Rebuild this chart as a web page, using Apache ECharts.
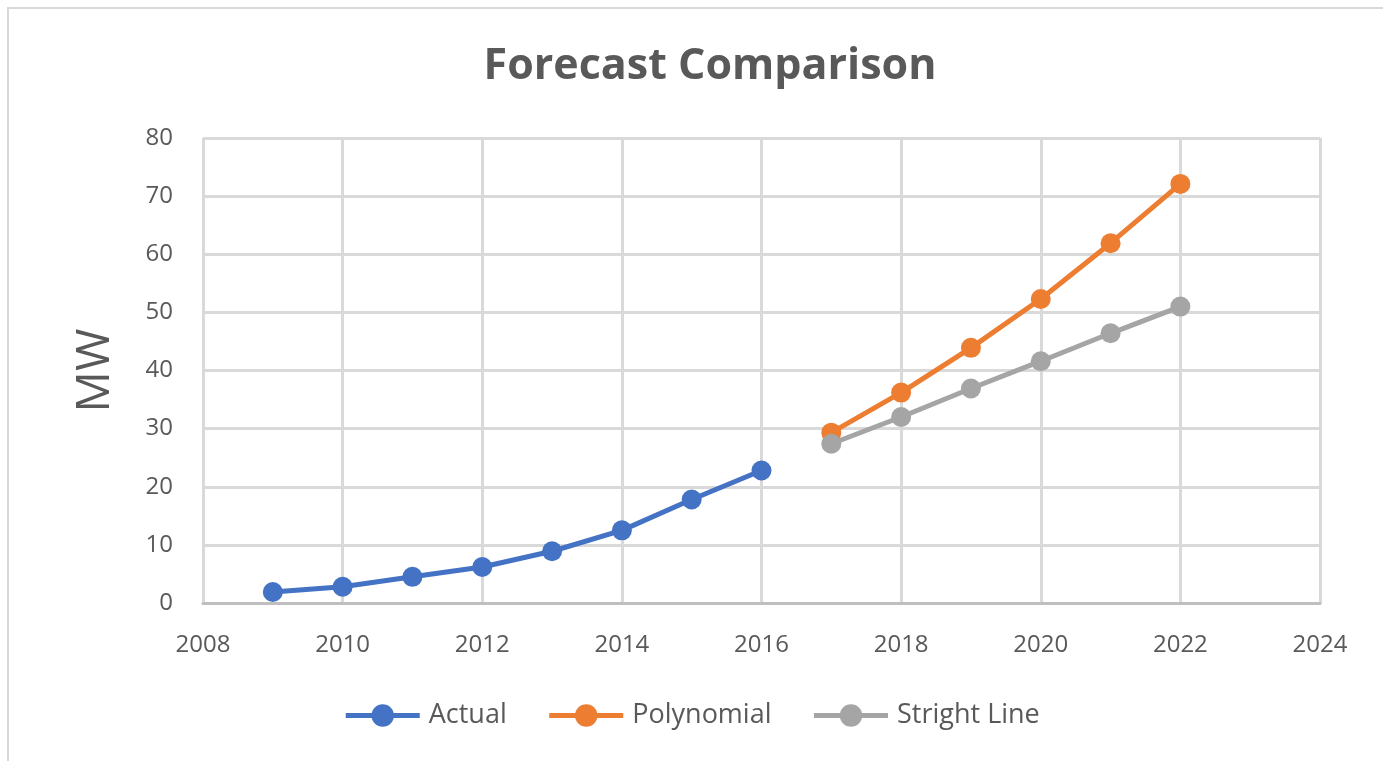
<!DOCTYPE html>
<html>
<head>
<meta charset="utf-8">
<script src="https://cdn.jsdelivr.net/npm/echarts@6/dist/echarts.min.js"></script>
<style>
html,body{margin:0;padding:0;background:#fff;}
#chart{width:1383px;height:761px;}
</style>
</head>
<body>
<div id="chart"></div>
<script>
const actualYears = [2009, 2010, 2011, 2012, 2013, 2014, 2015, 2016];
const actualValues = [1.9, 2.8, 4.5, 6.2, 8.9, 12.5, 17.8, 22.8];
const forecastYears = [2017, 2018, 2019, 2020, 2021, 2022];
const polynomialValues = [29.3, 36.2, 43.9, 52.3, 61.9, 72.1];
const straightValues = [27.4, 32.0, 36.9, 41.6, 46.4, 51.0];
const seriesNames = ['Actual', 'Polynomial', 'Stright Line'];
const colors = ['#4472C4', '#ED7D31', '#A5A5A5'];

const pair = (xs, ys) => xs.map((x, i) => [x, ys[i]]);
const font = '"Open Sans", "Noto Sans", sans-serif';
const mk = (name, data, color, z) => ({
  name, type: 'line', data, z,
  symbol: 'circle', symbolSize: 20,
  lineStyle: { color: color, width: 5 },
  itemStyle: { color: color },
  emphasis: { disabled: true }
});

const chart = echarts.init(document.getElementById('chart'));
chart.setOption({
  animation: false,
  backgroundColor: '#fff',
  title: {
    text: 'Forecast Comparison', left: 705, textAlign: 'center', top: 40,
    textStyle: { fontFamily: font, fontSize: 43, fontWeight: 'bold', color: '#595959' }
  },
  graphic: [{
    type: 'polyline',
    shape: { points: [[8, 761], [8, 8], [1383, 8]] },
    style: { stroke: '#d9d9d9', lineWidth: 2, fill: null }
  }],
  legend: {
    bottom: 27, left: 'center', itemWidth: 74, itemHeight: 28, itemGap: 40,
    lineStyle: { width: 5 },
    textStyle: { fontFamily: font, fontSize: 27, color: '#595959', padding: [0, 0, 0, 4] },
    data: seriesNames
  },
  grid: { left: 203, right: 63, top: 138, bottom: 158 },
  xAxis: {
    type: 'value', min: 2008, max: 2024, interval: 2,
    axisLine: { show: true, lineStyle: { color: '#bfbfbf', width: 3 } },
    axisTick: { show: false },
    axisLabel: { fontFamily: font, fontSize: 24, color: '#595959', margin: 30, formatter: v => String(v) },
    splitLine: { show: true, lineStyle: { color: '#d9d9d9', width: 3 } }
  },
  yAxis: {
    type: 'value', min: 0, max: 80, interval: 10,
    name: 'MW', nameLocation: 'middle', nameGap: 84, nameRotate: 90,
    nameTextStyle: { fontFamily: font, fontSize: 46, color: '#595959' },
    axisLine: { show: false }, axisTick: { show: false },
    axisLabel: { fontFamily: font, fontSize: 24, color: '#595959', margin: 30 },
    splitLine: { lineStyle: { color: '#d9d9d9', width: 3 } }
  },
  series: [
    mk(seriesNames[0], pair(actualYears, actualValues), colors[0], 3),
    mk(seriesNames[1], pair(forecastYears, polynomialValues), colors[1], 2),
    mk(seriesNames[2], pair(forecastYears, straightValues), colors[2], 3)
  ]
});
</script>
</body>
</html>
